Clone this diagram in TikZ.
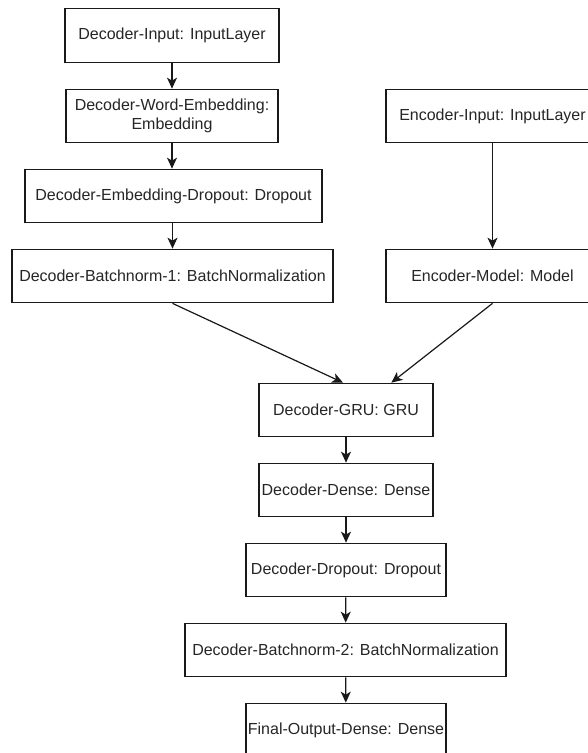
\documentclass[tikz,border=0pt]{standalone}
\usepackage{fontspec}
\setmainfont{Liberation Sans}
\usetikzlibrary{arrows.meta,calc}

\begin{document}
\begin{tikzpicture}[x=1pt,y=-1pt,
  layer/.style={draw=black!90,line width=1.2pt,fill=white,inner sep=0pt,
    minimum height=53.5pt,align=center,text=black!85,
    font=\fontsize{16}{19.5}\selectfont},
  flow/.style={draw=black!90,line width=1.2pt,
    -{Stealth[length=11pt,width=10pt,inset=3pt]}}]
  \useasboundingbox (0,0) rectangle (588,753);
  \clip (0,0) rectangle (588,753);
  \fill[white] (0,0) rectangle (588,753);

  % decoder input branch
  \node[layer,minimum width=214pt] (din)   at (172,35.5)  {Decoder-Input: InputLayer};
  \node[layer,minimum width=212pt] (demb)  at (172,116)   {Decoder-Word-Embedding:\\Embedding};
  \node[layer,minimum width=297pt] (ddrop) at (173.5,196) {Decoder-Embedding-Dropout: Dropout};
  \node[layer,minimum width=321pt] (dbn1)  at (172.5,276) {Decoder-Batchnorm-1: BatchNormalization};

  % encoder branch
  \node[layer,minimum width=213pt] (ein)   at (492.5,116) {Encoder-Input: InputLayer};
  \node[layer,minimum width=213pt] (emod)  at (492.5,276) {Encoder-Model: Model};

  % merged decoder stack
  \node[layer,minimum width=174pt] (gru)   at (346,410)   {Decoder-GRU: GRU};
  \node[layer,minimum width=174pt] (dense) at (346,490)   {Decoder-Dense: Dense};
  \node[layer,minimum width=200pt] (drop)  at (346,570)   {Decoder-Dropout: Dropout};
  \node[layer,minimum width=321pt] (bn2)   at (345.5,650) {Decoder-Batchnorm-2: BatchNormalization};
  \node[layer,minimum width=200pt] (final) at (346,730)   {Final-Output-Dense: Dense};

  % connectors
  \draw[flow] (din) -- (demb);
  \draw[flow] (demb) -- (demb |- ddrop.north);
  \draw[flow] (ddrop.south -| dbn1) -- (dbn1);
  \draw[flow] (ein) -- (emod);
  \coordinate (gruL) at ($(gru.north west)!0.483!(gru.north east)$);
  \coordinate (gruR) at ($(gru.north west)!0.759!(gru.north east)$);
  \draw[flow] (dbn1.south) -- (gruL);
  \draw[flow] (emod.south) -- (gruR);
  \draw[flow] (gru) -- (dense);
  \draw[flow] (dense) -- (drop);
  \draw[flow] (drop) -- (bn2);
  \draw[flow] (bn2) -- (final);
\end{tikzpicture}
\end{document}
